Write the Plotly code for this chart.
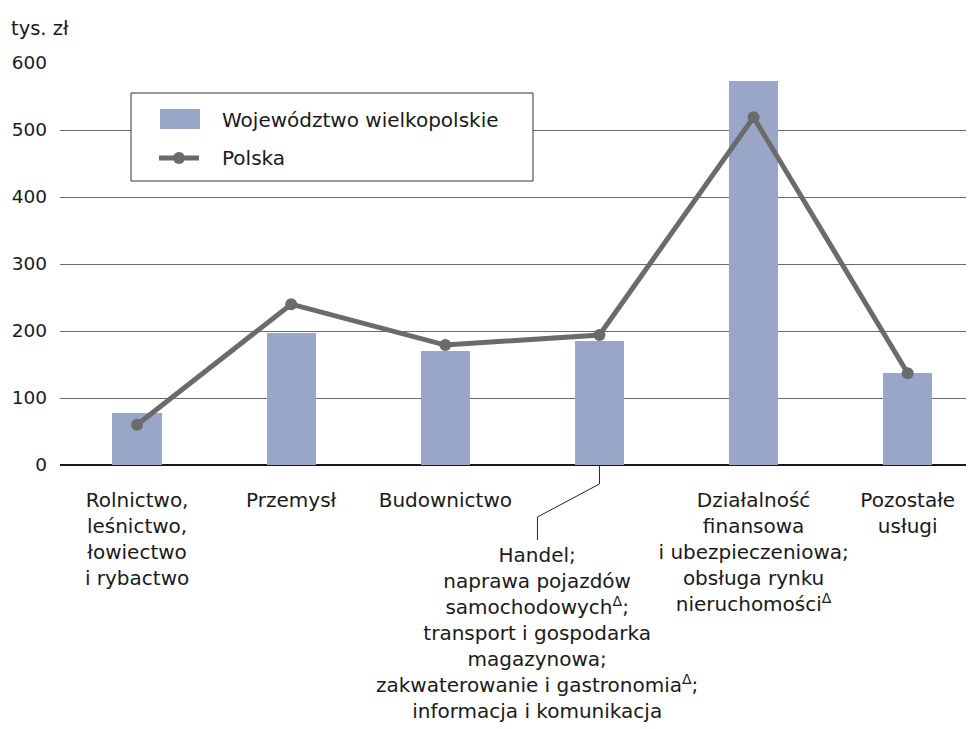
import plotly.graph_objects as go

categories = [
    "Rolnictwo,<br>leśnictwo,<br>łowiectwo<br>i rybactwo",
    "Przemysł",
    "Budownictwo",
    "Handel;<br>naprawa pojazdów<br>samochodowych<sup>Δ</sup>;<br>transport i gospodarka<br>magazynowa;<br>zakwaterowanie i gastronomia<sup>Δ</sup>;<br>informacja i komunikacja",
    "Działalność<br>finansowa<br>i ubezpieczeniowa;<br>obsługa rynku<br>nieruchomości<sup>Δ</sup>",
    "Pozostałe<br>usługi",
]
wielkopolskie = [78, 197, 170, 185, 573, 137]
polska = [60, 240, 179, 194, 519, 137]
y_ticks = [0, 100, 200, 300, 400, 500, 600]
series_names = ["Województwo wielkopolskie", "Polska"]
unit_label = "tys. zł"

FONT = "DejaVu Sans"
FS = 20
BAR_COLOR = "#9aa6c8"
LINE_COLOR = "#6b6b6b"
TEXT = "#1a1a1a"

xs = list(range(len(categories)))
ticktext = [c if i != 3 else "" for i, c in enumerate(categories)]

fig = go.Figure()
fig.add_trace(go.Bar(x=xs, y=wielkopolskie, width=0.32, marker=dict(color=BAR_COLOR, line=dict(width=0)),
                     name=series_names[0], showlegend=False))
fig.add_trace(go.Scatter(x=xs, y=polska, mode="lines+markers", name=series_names[1],
                         line=dict(color=LINE_COLOR, width=5), marker=dict(color=LINE_COLOR, size=12),
                         showlegend=False))

# page geometry (figure sits 8px in from page corner): plot area y 63..465, x 60..974
def py(Y):
    return (465 - Y) / 402.0

def px(X):
    return (X - 60) / 914.0

shapes = []
annotations = []

# manual legend
shapes.append(dict(type="rect", xref="paper", yref="paper", x0=px(131), x1=px(533), y0=py(181), y1=py(93),
                   line=dict(color="#333333", width=1), fillcolor="white", layer="above"))
shapes.append(dict(type="rect", xref="paper", yref="paper", x0=px(160), x1=px(200), y0=py(129), y1=py(109),
                   line=dict(width=0), fillcolor=BAR_COLOR, layer="above"))
shapes.append(dict(type="line", xref="paper", yref="paper", x0=px(159), x1=px(199), y0=py(158), y1=py(158),
                   line=dict(color=LINE_COLOR, width=5), layer="above"))
shapes.append(dict(type="circle", xref="paper", yref="paper", x0=px(173), x1=px(185), y0=py(164), y1=py(152),
                   line=dict(width=0), fillcolor=LINE_COLOR, layer="above"))
annotations.append(dict(xref="paper", yref="paper", x=px(220), y=py(120), text=series_names[0], showarrow=False,
                        xanchor="left", yanchor="middle", font=dict(family=FONT, size=FS, color=TEXT)))
annotations.append(dict(xref="paper", yref="paper", x=px(220), y=py(158), text=series_names[1], showarrow=False,
                        xanchor="left", yanchor="middle", font=dict(family=FONT, size=FS, color=TEXT)))

# unit label
annotations.append(dict(xref="paper", yref="paper", x=px(9), y=py(28), text=unit_label, showarrow=False,
                        xanchor="left", yanchor="middle", font=dict(family=FONT, size=19.5, color=TEXT)))

# Handel label with leader line
handel_x = 3 - 62 / 154.1
shapes.append(dict(type="path", xref="x", yref="paper",
                   path=f"M 3,{py(466)} L 3,{py(484)} L {handel_x},{py(517)} L {handel_x},{py(540)}",
                   line=dict(color="#222222", width=1)))
annotations.append(dict(xref="x", yref="paper", x=handel_x, y=py(540.5), text=categories[3], showarrow=False,
                        xanchor="center", yanchor="top", align="center",
                        font=dict(family=FONT, size=FS, color=TEXT)))

fig.update_layout(
    width=966, height=721,
    margin=dict(l=52, r=0, t=55, b=264),
    plot_bgcolor="white", paper_bgcolor="white",
    font=dict(family=FONT, size=FS, color=TEXT),
    shapes=shapes, annotations=annotations,
    bargap=0,
)
fig.update_xaxes(range=[-0.5, 5.43], tickmode="array", tickvals=xs, ticktext=ticktext,
                 showgrid=False, zeroline=False, showline=False, ticks="", ticklabelstandoff=21,
                 tickfont=dict(family=FONT, size=FS, color=TEXT), fixedrange=True)
fig.update_yaxes(range=[0, 600], tickmode="array", tickvals=y_ticks, showgrid=True, gridcolor="#6a6a6a",
                 gridwidth=1.4, zeroline=True, zerolinecolor="#1a1a1a", zerolinewidth=1.5, showline=False,
                 ticks="", ticklabelstandoff=12, tickfont=dict(family=FONT, size=18.5, color=TEXT), fixedrange=True)

fig.write_html("out.html")
